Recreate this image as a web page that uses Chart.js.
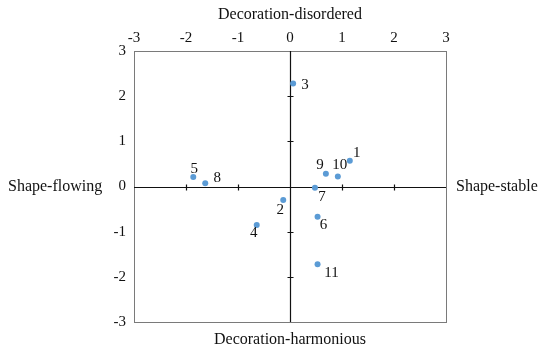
<!DOCTYPE html>
<html>
<head>
<meta charset="utf-8">
<script src="https://cdn.jsdelivr.net/npm/chart.js@4/dist/chart.umd.min.js"></script>
<style>
html,body{margin:0;padding:0;background:#fff;}
#wrap{width:541px;height:349px;position:relative;}
</style>
</head>
<body>
<div id="wrap"><canvas id="c" width="541" height="349"></canvas></div>
<script>
// ---- data ----
const pointIds = ['1','2','3','4','5','6','7','8','9','10','11'];
const xValues  = [1.15, -0.13, 0.06, -0.64, -1.86, 0.53, 0.48, -1.63, 0.69, 0.92, 0.53];
const yValues  = [0.57, -0.30, 2.28, -0.85, 0.21, -0.67, -0.03, 0.07, 0.28, 0.22, -1.72];
const tickValues = [-3, -2, -1, 0, 1, 2, 3];
const topTitle = 'Decoration-disordered';
const bottomTitle = 'Decoration-harmonious';
const leftTitle = 'Shape-flowing';
const rightTitle = 'Shape-stable';

// ---- styles (label offsets in pixels) ----
const labelOffsets = [[7,-8],[-3,10],[12,2],[-3,8],[1,-8],[6,8],[7,9],[12,-5],[-6,-9],[2,-12],[14,9]];
const FONT = '"Liberation Serif", "Times New Roman", serif';

const points = xValues.map((x, i) => ({x: x, y: yValues[i]}));

const quadPlugin = {
  id: 'quad',
  beforeDatasetsDraw(chart) {
    const {ctx, chartArea: a, scales} = chart;
    const xs = scales.x, ys = scales.y;
    ctx.save();
    // frame
    ctx.strokeStyle = '#7a7a7a';
    ctx.lineWidth = 1;
    ctx.strokeRect(Math.round(a.left)+0.5, Math.round(a.top)+0.5, Math.round(a.right-a.left), Math.round(a.bottom-a.top));
    // center axes
    const x0 = Math.round(xs.getPixelForValue(0)) + 0.5;
    const y0 = Math.round(ys.getPixelForValue(0)) + 0.5;
    ctx.strokeStyle = '#111';
    ctx.lineWidth = 1.2;
    ctx.beginPath();
    ctx.moveTo(a.left, y0); ctx.lineTo(a.right, y0);
    ctx.moveTo(x0, a.top); ctx.lineTo(x0, a.bottom);
    tickValues.forEach(v => {
      if (v === 0 || v === tickValues[0] || v === tickValues[tickValues.length-1]) return;
      const px = Math.round(xs.getPixelForValue(v)) + 0.5;
      ctx.moveTo(px, y0 - 3); ctx.lineTo(px, y0 + 3);
      const py = Math.round(ys.getPixelForValue(v)) + 0.5;
      ctx.moveTo(x0 - 3, py); ctx.lineTo(x0 + 3, py);
    });
    ctx.stroke();
    ctx.restore();
  },
  afterDatasetsDraw(chart) {
    const {ctx, chartArea: a, scales} = chart;
    const meta = chart.getDatasetMeta(0);
    ctx.save();
    ctx.fillStyle = '#111';
    ctx.font = '15px ' + FONT;
    ctx.textAlign = 'center';
    ctx.textBaseline = 'middle';
    meta.data.forEach((el, i) => {
      const off = labelOffsets[i];
      ctx.fillText(pointIds[i], el.x + off[0], el.y + off[1]);
    });
    const y0 = scales.y.getPixelForValue(0);
    ctx.font = '16px ' + FONT;
    ctx.textAlign = 'left';
    ctx.fillText(leftTitle, 8, y0);
    ctx.fillText(rightTitle, a.right + 10, y0);
    ctx.restore();
  }
};

new Chart(document.getElementById('c'), {
  type: 'scatter',
  data: {
    datasets: [{
      data: points,
      backgroundColor: '#5b9bd5',
      borderWidth: 0,
      pointRadius: 3,
      pointHoverRadius: 3
    }]
  },
  options: {
    responsive: false,
    animation: false,
    events: [],
    layout: {padding: {left: 0, right: 95, top: 0, bottom: 0}},
    plugins: {legend: {display: false}, tooltip: {enabled: false}},
    scales: {
      x: {
        type: 'linear', position: 'top', min: -3, max: 3,
        afterBuildTicks: s => { s.ticks = tickValues.map(v => ({value: v})); },
        afterFit: s => { s.height = 51; },
        grid: {display: false, drawTicks: false},
        border: {display: false},
        ticks: {color: '#111', font: {family: FONT, size: 15}, padding: 4, maxRotation: 0},
        title: {display: true, text: topTitle, color: '#111', font: {family: FONT, size: 16}, padding: {top: 5, bottom: 0}}
      },
      xb: {
        type: 'linear', position: 'bottom', min: -3, max: 3,
        afterFit: s => { s.height = 27; },
        grid: {display: false, drawTicks: false},
        border: {display: false},
        ticks: {display: false},
        title: {display: true, text: bottomTitle, color: '#111', font: {family: FONT, size: 16}, padding: {top: 0, bottom: 0}}
      },
      y: {
        type: 'linear', position: 'left', min: -3, max: 3,
        afterBuildTicks: s => { s.ticks = tickValues.map(v => ({value: v})); },
        afterFit: s => { s.width = 134; },
        grid: {display: false, drawTicks: false},
        border: {display: false},
        ticks: {color: '#111', font: {family: FONT, size: 15}, padding: 8}
      }
    }
  },
  plugins: [quadPlugin]
});
</script>
</body>
</html>
